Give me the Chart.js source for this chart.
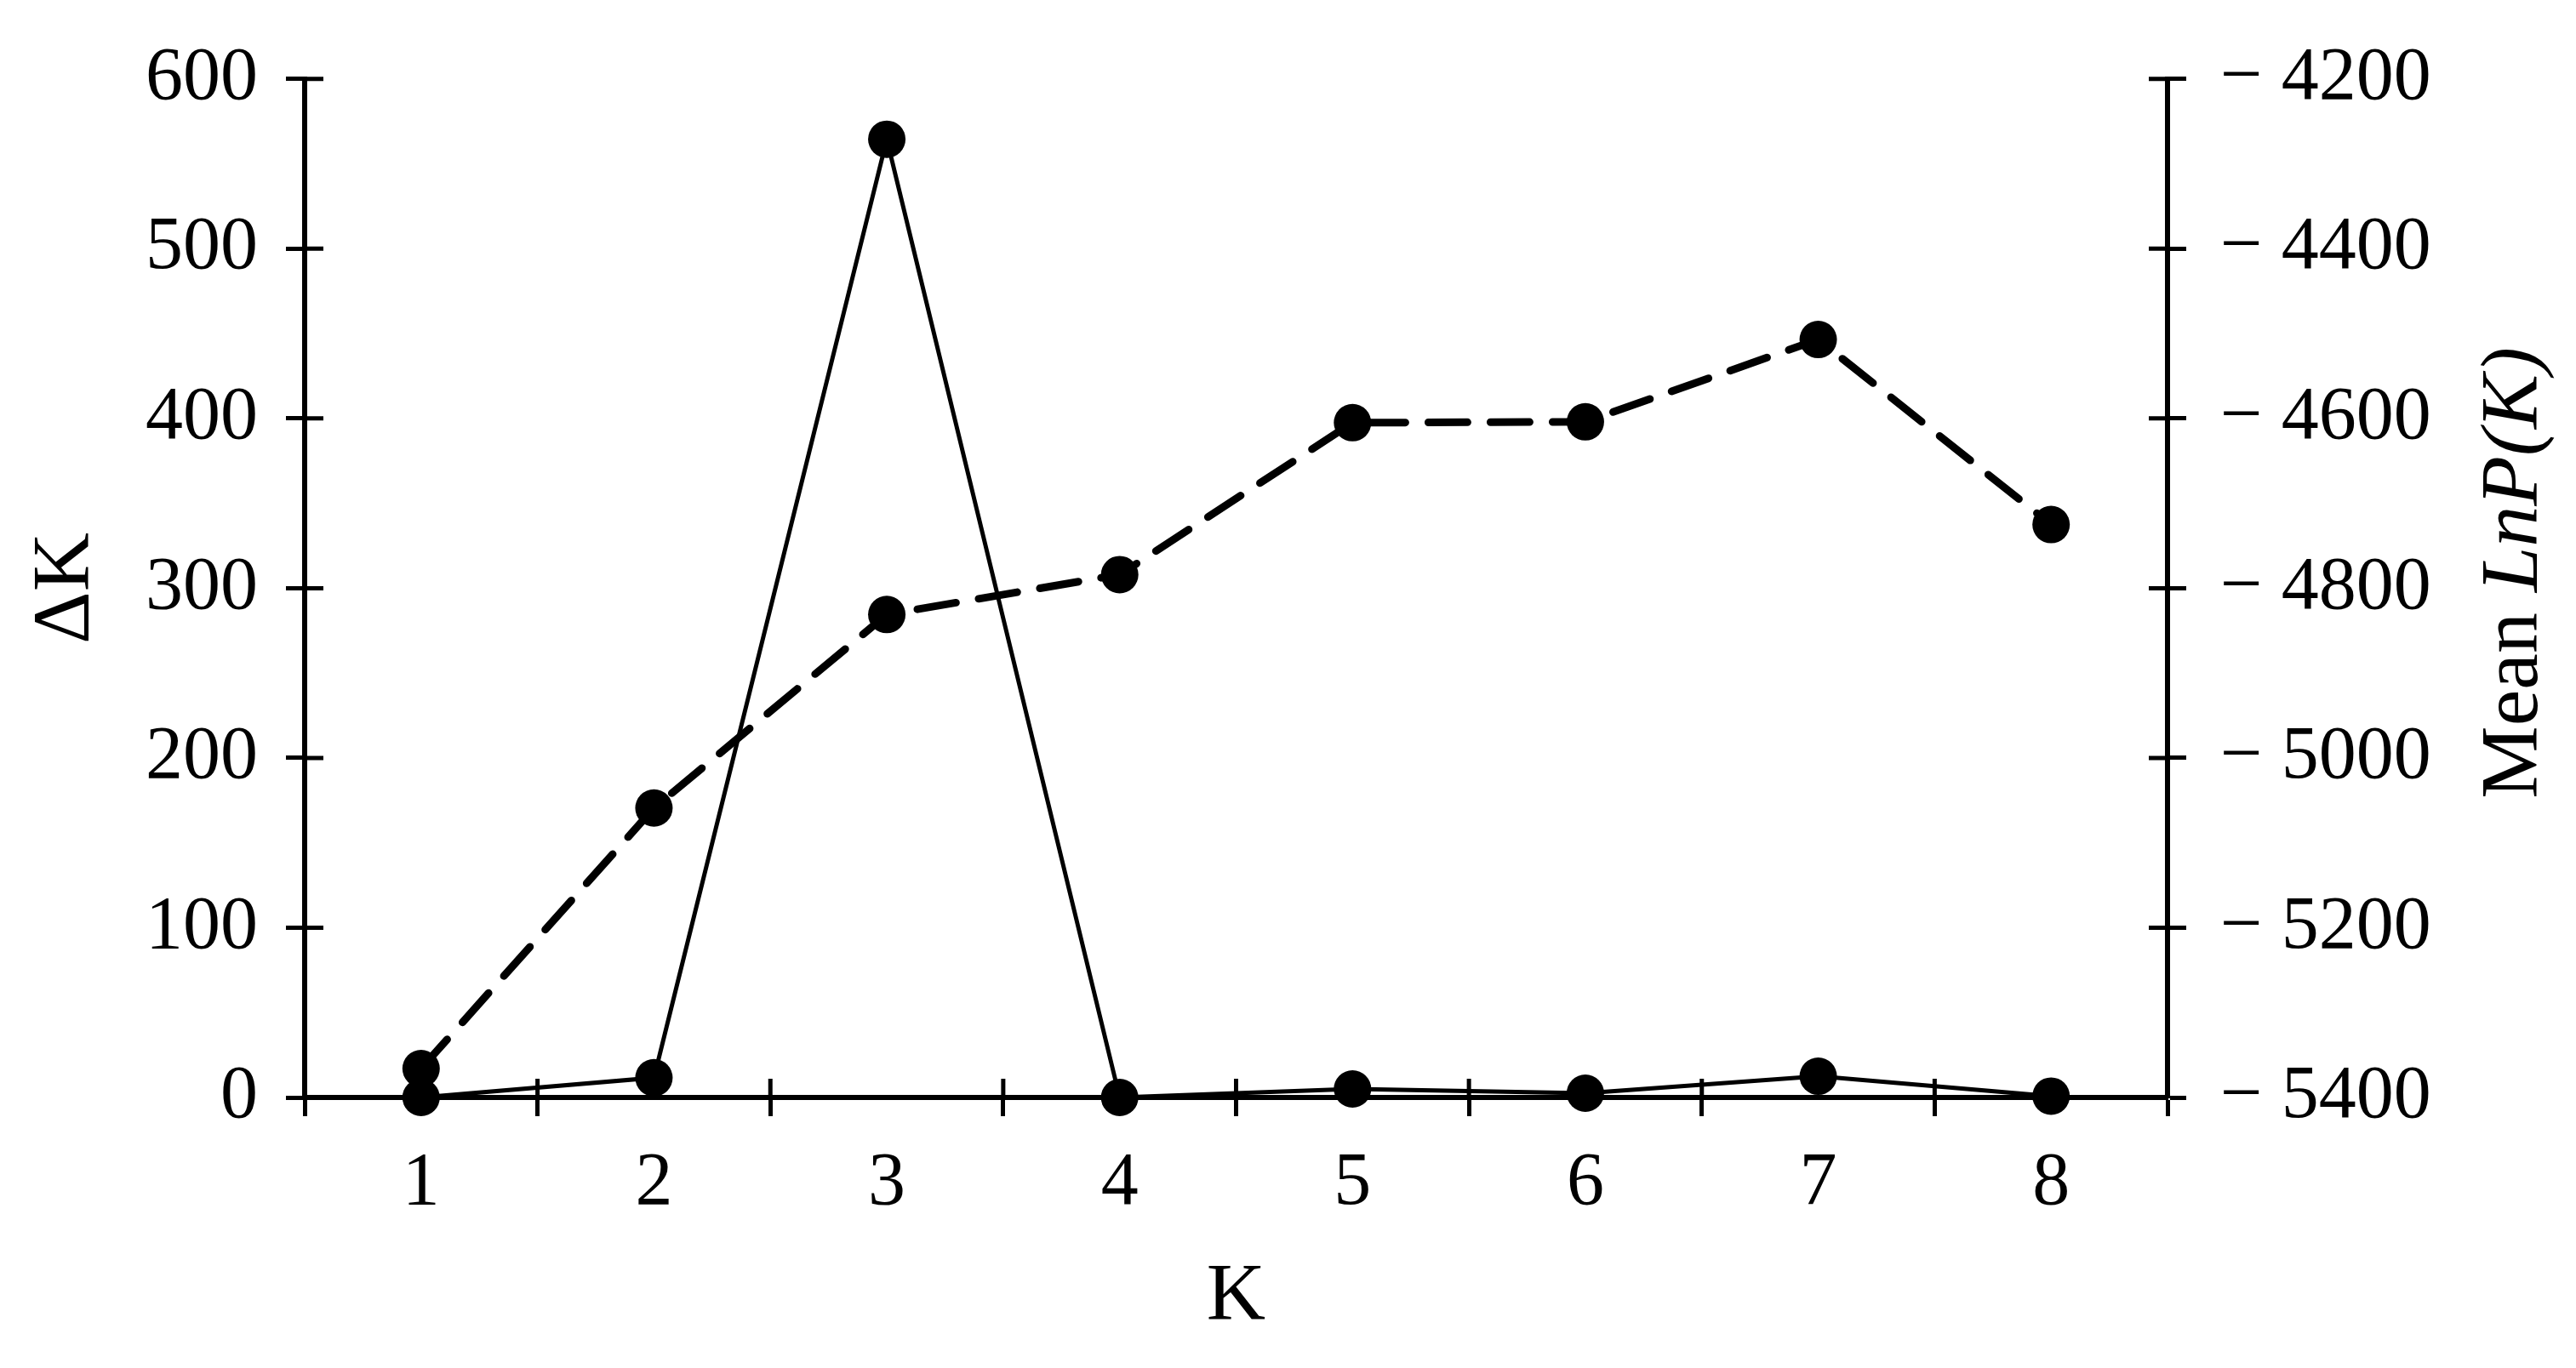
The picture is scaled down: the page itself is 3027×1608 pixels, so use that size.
<!DOCTYPE html>
<html>
<head>
<meta charset="utf-8">
<script src="https://cdn.jsdelivr.net/npm/chart.js@4/dist/chart.umd.min.js"></script>
<style>
  html, body { margin: 0; padding: 0; background: #ffffff; }
  #wrap { width: 3027px; height: 1608px; }
</style>
</head>
<body>
<div id="wrap"><canvas id="c" width="3027" height="1608"></canvas></div>
<script>
// ---- data ----
const categories = ['1', '2', '3', '4', '5', '6', '7', '8'];
const deltaK = [0, 11.6, 564.5, 0, 5, 2.5, 12.5, 0.8];
const meanLnPK = [-5366, -5059, -4831, -4784, -4605, -4604, -4507, -4725];
const leftTicks = { min: 0, max: 600, step: 100 };
const rightTicks = { min: -5400, max: -4200, step: 200 };
const xTitle = 'K';
const leftTitle = 'ΔK';
const rightTitlePlain = 'Mean ';
const rightTitleItalic = 'LnP(K)';

const FONT = 'Liberation Serif';
const TICK_LEN = 22;

// inner halves of the crossing tick marks, derived from the scales
const innerTicks = {
  id: 'innerTicks',
  beforeDatasetsDraw(chart) {
    const ctx = chart.ctx;
    const x = chart.scales.x, yL = chart.scales.y, yR = chart.scales.y1;
    ctx.save();
    ctx.strokeStyle = '#000';
    ctx.lineWidth = 5;
    ctx.lineCap = 'butt';
    ctx.beginPath();
    const n = categories.length;
    for (let k = 0; k <= n; k++) {
      const px = x.getPixelForValue(k - 0.5);
      ctx.moveTo(px, x.top);
      ctx.lineTo(px, x.top - TICK_LEN);
    }
    yL.ticks.forEach(t => {
      const py = yL.getPixelForValue(t.value);
      ctx.moveTo(yL.right, py);
      ctx.lineTo(yL.right + TICK_LEN, py);
    });
    yR.ticks.forEach(t => {
      const py = yR.getPixelForValue(t.value);
      ctx.moveTo(yR.left, py);
      ctx.lineTo(yR.left - TICK_LEN, py);
    });
    ctx.stroke();
    ctx.restore();
  },
  afterDraw(chart) {
    // right axis title with italic part, reading bottom-to-top
    const ctx = chart.ctx;
    const yR = chart.scales.y1;
    const area = chart.chartArea;
    ctx.save();
    const regular = '96px "' + FONT + '"';
    const italic = 'italic 96px "' + FONT + '"';
    ctx.font = regular;
    const w1 = ctx.measureText(rightTitlePlain).width;
    ctx.font = italic;
    const w2 = ctx.measureText(rightTitleItalic).width;
    const cx = yR.right - 71;
    const cy = (area.top + area.bottom) / 2 - 18;
    ctx.translate(cx, cy);
    ctx.rotate(-Math.PI / 2);
    ctx.fillStyle = '#000';
    ctx.textBaseline = 'middle';
    ctx.textAlign = 'left';
    const start = -(w1 + w2) / 2;
    ctx.font = regular;
    ctx.fillText(rightTitlePlain, start, 0);
    ctx.font = italic;
    ctx.fillText(rightTitleItalic, start + w1, 0);
    ctx.restore();
  }
};

new Chart(document.getElementById('c'), {
  type: 'line',
  data: {
    labels: categories,
    datasets: [
      {
        label: 'ΔK',
        data: deltaK,
        yAxisID: 'y',
        borderColor: '#000',
        backgroundColor: '#000',
        borderWidth: 5,
        pointRadius: 22,
        pointBorderWidth: 0,
        pointBackgroundColor: '#000',
        tension: 0,
        clip: false,
        fill: false
      },
      {
        label: 'Mean LnP(K)',
        data: meanLnPK,
        yAxisID: 'y1',
        borderColor: '#000',
        backgroundColor: '#000',
        borderWidth: 9,
        borderDash: [46, 27],
        borderCapStyle: 'round',
        pointRadius: 22,
        pointBorderWidth: 0,
        pointBackgroundColor: '#000',
        tension: 0,
        clip: false,
        fill: false
      }
    ]
  },
  options: {
    responsive: false,
    devicePixelRatio: 1,
    animation: false,
    events: [],
    layout: { padding: { top: 82, left: 0, right: 0, bottom: 0 } },
    plugins: {
      legend: { display: false },
      tooltip: { enabled: false },
      title: { display: false }
    },
    scales: {
      x: {
        type: 'category',
        offset: true,
        afterFit: s => { s.height = 318; },
        grid: {
          offset: true,
          drawOnChartArea: false,
          drawTicks: true,
          tickLength: TICK_LEN,
          tickWidth: 5,
          tickColor: '#000'
        },
        border: { display: true, color: '#000', width: 6 },
        ticks: {
          color: '#000',
          padding: 27,
          maxRotation: 0,
          font: { family: FONT, size: 88 }
        },
        title: {
          display: true,
          text: xTitle,
          color: '#000',
          padding: { top: 0, bottom: 25 },
          font: { family: FONT, size: 96 }
        }
      },
      y: {
        type: 'linear',
        position: 'left',
        min: leftTicks.min,
        max: leftTicks.max,
        afterFit: s => { s.width = 358; },
        grid: {
          drawOnChartArea: false,
          drawTicks: true,
          tickLength: TICK_LEN,
          tickWidth: 5,
          tickColor: '#000'
        },
        border: { display: true, color: '#000', width: 6 },
        ticks: {
          stepSize: leftTicks.step,
          color: '#000',
          padding: 33,
          font: { family: FONT, size: 88 }
        },
        title: {
          display: true,
          text: leftTitle,
          color: '#000',
          padding: { top: 21, bottom: 0 },
          font: { family: FONT, size: 96 }
        }
      },
      y1: {
        type: 'linear',
        position: 'right',
        min: rightTicks.min,
        max: rightTicks.max,
        afterFit: s => { s.width = 480; },
        grid: {
          drawOnChartArea: false,
          drawTicks: true,
          tickLength: TICK_LEN,
          tickWidth: 5,
          tickColor: '#000'
        },
        border: { display: true, color: '#000', width: 6 },
        ticks: {
          stepSize: rightTicks.step,
          color: '#000',
          padding: 40,
          font: { family: FONT, size: 88 },
          callback: v => '\u2212 ' + Math.abs(v)
        },
        title: { display: false }
      }
    }
  },
  plugins: [innerTicks]
});
</script>
</body>
</html>
